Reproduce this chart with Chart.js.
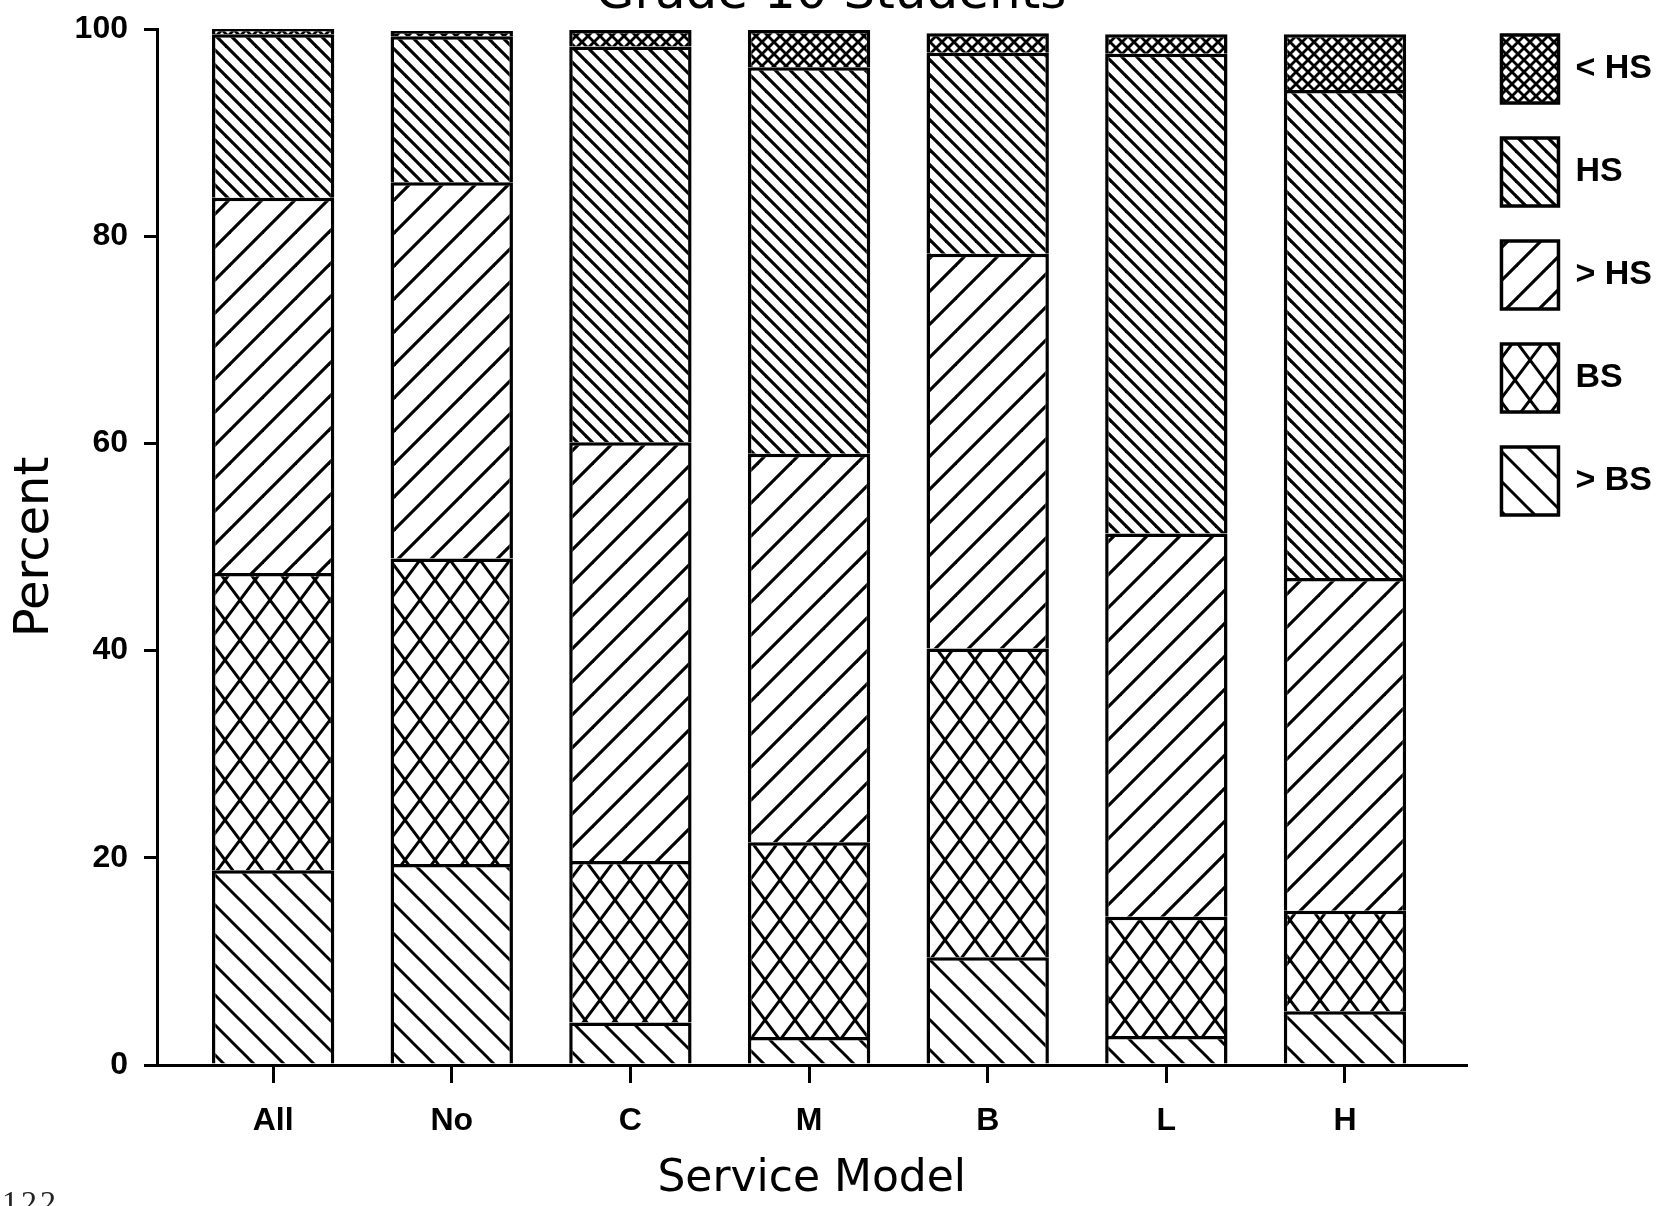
<!DOCTYPE html>
<html>
<head>
<meta charset="utf-8">
<title>Grade 10 Students</title>
<script src="https://cdn.jsdelivr.net/npm/chart.js@4.4.1/dist/chart.umd.min.js"></script>
<style>
  html, body { margin: 0; padding: 0; background: #fff; overflow: hidden; }
  #wrap { position: relative; width: 1670px; height: 1206px; overflow: hidden; }
  #page-no { position: absolute; left: 2px; top: 1184px; font: 32px 'Liberation Serif', serif; color: #222; letter-spacing: 3px; }
</style>
</head>
<body>
<div id="wrap">
  <canvas id="educationChart" width="1670" height="1206"></canvas>
  <div id="page-no">122</div>
</div>
<script>
// parent education by service model, stacked bottom -> top
const categories = ['All', 'No', 'C', 'M', 'B', 'L', 'H'];
const seriesNames = ['> BS', 'BS', '> HS', 'HS', '< HS'];
const aboveBS = [18.8, 19.4, 4.1, 2.7, 10.4, 2.8, 5.2];
const bs = [28.7, 29.5, 15.6, 18.8, 29.8, 11.5, 9.7];
const aboveHS = [36.2, 36.3, 40.4, 37.5, 38.1, 37.0, 32.1];
const hs = [15.8, 14.1, 38.2, 37.3, 19.4, 46.3, 47.1];
const belowHS = [0.5, 0.5, 1.6, 3.6, 1.9, 1.9, 5.4];
const yTicks = [0, 20, 40, 60, 80, 100];

const labelFont = "'Liberation Sans', Arial, sans-serif";
const titleFont = "'DejaVu Sans', sans-serif";

// hatch fill: 'back' = \ lines, 'fwd' = / lines
function makePattern(w, h, lineWidth, dirs) {
    const tile = document.createElement('canvas');
    tile.width = w;
    tile.height = h;
    const g = tile.getContext('2d');
    g.fillStyle = '#fff';
    g.fillRect(0, 0, w, h);
    g.strokeStyle = '#000';
    g.lineWidth = lineWidth;
    dirs.forEach((dir) => {
        [-w, 0, w].forEach((dx) => {
            g.beginPath();
            if (dir === 'back') {
                g.moveTo(dx - w, -h);
                g.lineTo(dx + 2 * w, 2 * h);
            } else {
                g.moveTo(dx - w, 2 * h);
                g.lineTo(dx + 2 * w, -h);
            }
            g.stroke();
        });
    });
    return g.createPattern(tile, 'repeat');
}

const fills = [
    makePattern(30, 30, 3, ['back']),            // > BS
    makePattern(30, 40, 3, ['back', 'fwd']),     // BS
    makePattern(33, 33, 3.2, ['fwd']),           // > HS
    makePattern(15, 15, 3.2, ['back']),          // HS
    makePattern(12, 12, 2.8, ['back', 'fwd']),   // < HS
];
const seriesValues = [aboveBS, bs, aboveHS, hs, belowHS];

const datasets = seriesNames.map((name, s) => ({
    label: name,
    data: seriesValues[s].map((v, i) => ({x: i, y: v})),
    backgroundColor: fills[s],
    borderColor: '#000',
    borderWidth: 3.5,
    barPercentage: 0.685,
    categoryPercentage: 1,
}));

const ctx = document.getElementById('educationChart').getContext('2d');

new Chart(ctx, {
    type: 'bar',
    data: {datasets},
    options: {
        responsive: false,
        animation: false,
        devicePixelRatio: 1,
        layout: {padding: {left: 0, right: 8, top: 0, bottom: 0}},
        plugins: {
            tooltip: {enabled: false},
            title: {
                display: true,
                text: 'Grade 10 Students',
                color: '#000',
                font: {family: titleFont, size: 50, weight: 'normal'},
                padding: {top: -35, bottom: 4},
            },
            legend: {
                position: 'right',
                align: 'start',
                fullSize: true,
                reverse: true,
                labels: {
                    color: '#000',
                    boxWidth: 57,
                    boxHeight: 68,
                    padding: 35,
                    font: {family: labelFont, size: 34, weight: 'bold'},
                },
            },
        },
        scales: {
            x: {
                type: 'linear',
                stacked: true,
                bounds: 'data',
                offset: false,
                min: -0.65,
                max: 6.68,
                afterBuildTicks: (axis) => {
                    axis.ticks = categories.map((c, i) => ({value: i}));
                },
                afterFit: (axis) => { axis.height = 141; },
                border: {color: '#000', width: 3},
                grid: {offset: false, drawOnChartArea: false, tickLength: 18, color: '#000', lineWidth: 3},
                ticks: {
                    color: '#000',
                    padding: 19,
                    maxRotation: 0,
                    autoSkip: false,
                    font: {family: labelFont, size: 32, weight: 'bold'},
                    callback: (value) => categories[value],
                },
                title: {
                    display: true,
                    text: 'Service Model',
                    color: '#000',
                    font: {family: titleFont, size: 44, weight: 'normal'},
                    padding: {top: 0, bottom: 0},
                },
            },
            y: {
                stacked: true,
                bounds: 'data',
                min: 0,
                max: 100,
                afterBuildTicks: (axis) => {
                    axis.ticks = yTicks.map((v) => ({value: v}));
                },
                afterFit: (axis) => {
                    axis.width = 157;
                    axis.paddingTop = 0;
                    axis.paddingBottom = 0;
                },
                border: {color: '#000', width: 3},
                grid: {drawOnChartArea: false, tickLength: 13, color: '#000', lineWidth: 3},
                ticks: {
                    color: '#000',
                    padding: 16,
                    font: {family: labelFont, size: 32, weight: 'bold'},
                },
                title: {
                    display: true,
                    text: 'Percent',
                    color: '#000',
                    font: {family: titleFont, size: 48, weight: 'normal'},
                    padding: {top: 7, bottom: 0},
                },
            },
        },
    },
});
</script>
</body>
</html>
